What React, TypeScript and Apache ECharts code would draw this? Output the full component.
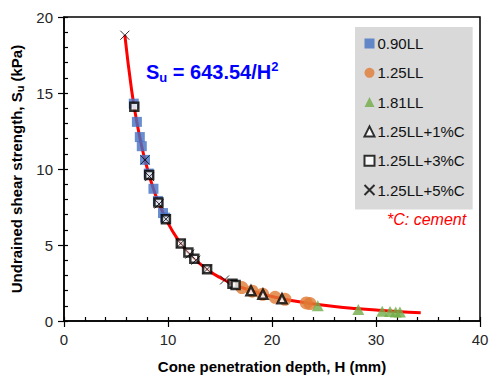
import React, { useEffect, useRef } from "react";
import * as echarts from "echarts";

const curveH = [5.85, 6.5, 7.0, 7.5, 8.0, 8.5, 9.0, 10, 11, 12, 13, 14, 15, 16, 18, 20, 22, 24, 26, 28, 30, 32, 34.3];
const curveS = [18.8, 15.2, 13.1, 11.4, 10.05, 8.9, 7.95, 6.44, 5.32, 4.47, 3.81, 3.28, 2.86, 2.51, 1.99, 1.61, 1.33, 1.12, 0.95, 0.82, 0.72, 0.63, 0.55];

const h090 = [6.71, 7.01, 7.29, 7.48, 7.79, 8.15, 8.6, 9.03, 9.52, 9.73];
const s090 = [14.3, 13.1, 12.1, 11.5, 10.6, 9.7, 8.7, 7.9, 7.1, 6.8];

const h125 = [17.1, 18.1, 19.1, 20.3, 21.25, 23.3, 23.65];
const s125 = [2.2, 1.96, 1.76, 1.56, 1.43, 1.19, 1.15];

const h181 = [24.4, 28.3, 30.6, 31.35, 31.9, 32.3];
const s181 = [1.0, 0.75, 0.64, 0.62, 0.6, 0.6];

const h1c = [17.98, 19.13, 20.96];
const s1c = [1.99, 1.76, 1.46];

const h3c = [6.76, 8.19, 9.08, 9.8, 11.23, 11.96, 12.53, 13.76, 16.2, 16.5];
const s3c = [14.1, 9.6, 7.8, 6.7, 5.1, 4.5, 4.1, 3.4, 2.45, 2.37];

const h5c = [5.85, 7.79, 8.23, 9.14, 9.8, 11.23, 12.09, 12.68, 13.76, 15.44];
const s5c = [18.8, 10.6, 9.5, 7.7, 6.7, 5.1, 4.4, 4.0, 3.4, 2.7];

const names = ["0.90LL", "1.25LL", "1.81LL", "1.25LL+1%C", "1.25LL+3%C", "1.25LL+5%C"];

const pairs = (xs: number[], ys: number[]) => xs.map((x, i) => [x, ys[i]]);

const FONT = "Liberation Sans, Arial, sans-serif";

export default function App() {
  const ref = useRef<HTMLDivElement>(null);
  useEffect(() => {
    if (!ref.current) return;
    const chart = echarts.init(ref.current, null, { renderer: "svg" });
    const tickLabel = { color: "#262626", fontSize: 15, fontFamily: FONT };
    chart.setOption({
      animation: false,
      textStyle: { fontFamily: FONT },
      grid: {
        left: 64,
        right: 9,
        top: 17,
        bottom: 55,
        outerBoundsMode: "none",
        containLabel: false,
        show: true,
        borderColor: "#000",
        borderWidth: 1.5,
        backgroundColor: "transparent",
      },
      legend: {
        data: names,
        orient: "vertical",
        left: 355,
        top: 27,
        width: 116,
        padding: [9, 8, 12, 7],
        itemGap: 14.3,
        itemWidth: 10,
        itemHeight: 10,
        backgroundColor: "#D9D9D9",
        borderRadius: 0,
        textStyle: { color: "#111", fontSize: 15, fontFamily: FONT, padding: [0, 0, 0, -2] },
      },
      xAxis: [
        {
          type: "value",
          min: 0,
          max: 40,
          interval: 10,
          position: "bottom",
          name: "Cone penetration depth, H (mm)",
          nameLocation: "middle",
          nameGap: 38,
          nameTextStyle: { color: "#000", fontSize: 15, fontWeight: "bold", fontFamily: FONT },
          axisLine: { show: true, lineStyle: { color: "#000", width: 1.5 } },
          axisTick: { show: true, inside: true, length: 4, lineStyle: { color: "#000", width: 1.2 } },
          minorTick: { show: true, splitNumber: 5, length: 4, lineStyle: { color: "#000", width: 1.2 } },
          axisLabel: { ...tickLabel, margin: 11 },
          splitLine: { show: false },
        },
        {
          type: "value",
          min: 0,
          max: 40,
          interval: 10,
          position: "bottom",
          gridIndex: 0,
          axisLine: { show: false },
          axisTick: { show: true, inside: false, length: 6, lineStyle: { color: "#000", width: 1.2 } },
          axisLabel: { show: false },
          splitLine: { show: false },
        },
      ],
      yAxis: [
        {
          type: "value",
          min: 0,
          max: 20,
          interval: 5,
          position: "left",
          name: "{t|Undrained shear strength, S}{s|u}{t| (kPa)}",
          nameLocation: "middle",
          nameGap: 36,
          nameTextStyle: {
            rich: {
              t: { color: "#000", fontSize: 15, fontWeight: "bold", fontFamily: FONT },
              s: { color: "#000", fontSize: 11, fontWeight: "bold", fontFamily: FONT, verticalAlign: "bottom", padding: [6, 0, 0, 0] },
            },
          },
          axisLine: { show: true, lineStyle: { color: "#000", width: 1.5 } },
          axisTick: { show: true, inside: true, length: 4, lineStyle: { color: "#000", width: 1.2 } },
          minorTick: { show: true, splitNumber: 5, length: 4, lineStyle: { color: "#000", width: 1.2 } },
          axisLabel: { ...tickLabel, margin: 11 },
          splitLine: { show: false },
        },
        {
          type: "value",
          min: 0,
          max: 20,
          interval: 5,
          position: "left",
          gridIndex: 0,
          axisLine: { show: false },
          axisTick: { show: true, inside: false, length: 6, lineStyle: { color: "#000", width: 1.2 } },
          axisLabel: { show: false },
          splitLine: { show: false },
        },
      ],
      graphic: [
        {
          type: "text",
          left: 146,
          top: 60,
          style: {
            text: "{m|S}{b|u}{m| = 643.54/H}{p|2}",
            rich: {
              m: { fontSize: 20, fontWeight: "bold", fill: "#0000FF", fontFamily: FONT, lineHeight: 24 },
              b: { fontSize: 13, fontWeight: "bold", fill: "#0000FF", fontFamily: FONT, verticalAlign: "bottom", lineHeight: 14 },
              p: { fontSize: 13, fontWeight: "bold", fill: "#0000FF", fontFamily: FONT, verticalAlign: "top", lineHeight: 14 },
            },
          },
        },
        {
          type: "text",
          left: 387,
          top: 211,
          style: {
            text: "*C: cement",
            fill: "#FF0000",
            fontSize: 16,
            fontStyle: "italic",
            fontFamily: FONT,
          },
        },
      ],
      series: [
        {
          name: "fit",
          type: "line",
          data: pairs(curveH, curveS),
          smooth: true,
          showSymbol: false,
          lineStyle: { color: "#FF0000", width: 3 },
          z: 1,
        },
        {
          name: names[0],
          type: "scatter",
          data: pairs(h090, s090),
          symbol: "rect",
          symbolSize: 10,
          itemStyle: { color: "#4472C4" },
          z: 2,
        },
        {
          name: names[1],
          type: "scatter",
          data: pairs(h125, s125),
          symbol: "circle",
          symbolSize: 13,
          itemStyle: { color: "#E07A35" },
          z: 3,
        },
        {
          name: names[2],
          type: "scatter",
          data: pairs(h181, s181),
          symbol: "triangle",
          symbolSize: [12, 11],
          itemStyle: { color: "#70AD47" },
          z: 4,
        },
        {
          name: names[3],
          type: "scatter",
          data: pairs(h1c, s1c),
          symbol: "triangle",
          symbolSize: [9, 9],
          itemStyle: { color: "#FFFFFF", borderColor: "#000", borderWidth: 2.5 },
          z: 5,
        },
        {
          name: names[4],
          type: "scatter",
          data: pairs(h3c, s3c),
          symbol: "rect",
          symbolSize: 8,
          itemStyle: { color: "#FFFFFF", borderColor: "#000", borderWidth: 2.5 },
          z: 6,
        },
        {
          name: names[5],
          type: "scatter",
          data: pairs(h5c, s5c),
          symbol: "path://M0,0L10,10M10,0L0,10",
          symbolSize: 9,
          itemStyle: { color: "none", borderColor: "#000", borderWidth: 1 },
          z: 7,
        },
      ],
    });
    return () => chart.dispose();
  }, []);
  return <div ref={ref} style={{ position: "absolute", left: 0, top: 0, width: 489, height: 376 }} />;
}
